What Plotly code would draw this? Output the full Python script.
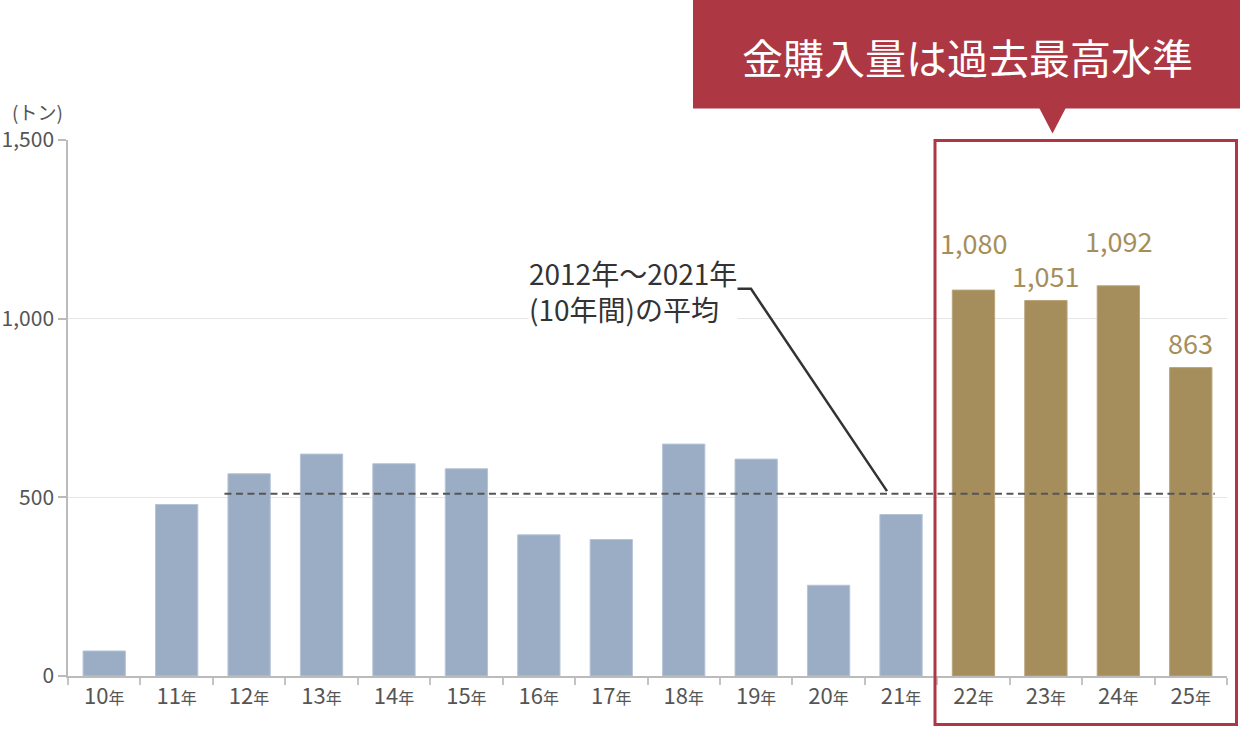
import plotly.graph_objects as go

# ---- data ----
years = ["10", "11", "12", "13", "14", "15", "16", "17", "18", "19",
         "20", "21", "22", "23", "24", "25"]
categories = [y + "年" for y in years]
purchases = [70, 480, 566, 621, 594, 580, 395, 382, 649, 607,
             254, 452, 1080, 1051, 1092, 863]
highlight_from = "22年"
average_2012_2021 = 510
avg_start, avg_end = "12年", "25年"
y_ticks = [0, 500, 1000, 1500]
unit_label = "(トン)"
avg_label = "2012年～2021年<br>(10年間)の平均"
callout_label = "金購入量は過去最高水準"

# ---- style ----
FONT = "Noto Sans CJK JP"
BLUE = "#9aadc5"
BLUE_EDGE = "#b6c4d6"
GOLD = "#a58e5c"
GOLD_EDGE = "#b9a57c"
RED = "#ad3843"
W, H = 1240, 730
L, R, T, B = 68, 13, 139.5, 54
PW, PH = W - L - R, H - T - B


def px_x(p):
    return (p - L) / PW


def px_y(p):
    return (H - B - p) / PH


hi = categories.index(highlight_from)
colors = [BLUE if i < hi else GOLD for i in range(len(categories))]
edges = [BLUE_EDGE if i < hi else GOLD_EDGE for i in range(len(categories))]

fig = go.Figure()
fig.add_trace(go.Bar(
    x=categories, y=purchases,
    marker=dict(color=colors, line=dict(color=edges, width=1)),
    hoverinfo="x+y",
))

ticktext = [y + "<span style='font-size:16px'>年</span>" for y in years]

# value labels above highlighted bars
label_lift = {"22年": 23, "24年": 20}
annotations = []
for c, v in zip(categories[hi:], purchases[hi:]):
    annotations.append(dict(
        x=c, y=v, xref="x", yref="y", text=f"{v:,}", showarrow=False,
        xanchor="center", yanchor="middle", yshift=25 + label_lift.get(c, 0),
        font=dict(family=FONT, size=27, color=GOLD),
    ))

annotations.append(dict(
    x=px_x(37), y=px_y(110.5), xref="paper", yref="paper", text=unit_label,
    showarrow=False, xanchor="center", yanchor="middle",
    font=dict(family=FONT, size=19, color="#555"),
))
annotations.append(dict(
    x=px_x(528), y=px_y(252), xref="paper", yref="paper", text=avg_label,
    showarrow=False, xanchor="left", yanchor="top", align="left",
    bgcolor="white", borderpad=0,
    font=dict(family=FONT, size=28, color="#333"),
))
annotations.append(dict(
    x=px_x(967), y=px_y(55), xref="paper", yref="paper", text=callout_label,
    showarrow=False, xanchor="center", yanchor="middle",
    font=dict(family=FONT, size=41, color="white"),
))

i0 = categories.index(avg_start)
i1 = categories.index(avg_end)
shapes = [
    # average line
    dict(type="line", xref="x", yref="y", x0=i0 - 0.34, x1=i1 + 0.33,
         y0=average_2012_2021, y1=average_2012_2021,
         line=dict(color="#555", width=2, dash="7px,4.5px"), layer="above"),
    # leader line
    dict(type="path", xref="paper", yref="paper",
         path=f"M {px_x(725)},{px_y(288.5)} L {px_x(751)},{px_y(288.5)} "
              f"L {px_x(887)},{px_y(491)}",
         line=dict(color="#333", width=2.5)),
    # highlight frame
    dict(type="rect", xref="paper", yref="paper",
         x0=px_x(935), x1=px_x(1236.5), y0=px_y(724.5), y1=px_y(140),
         line=dict(color=RED, width=3)),
    # callout box
    dict(type="rect", xref="paper", yref="paper",
         x0=px_x(693), x1=px_x(1245), y0=px_y(108), y1=px_y(-5),
         fillcolor=RED, line=dict(width=0)),
    dict(type="path", xref="paper", yref="paper",
         path=f"M {px_x(1039)},{px_y(107)} L {px_x(1066)},{px_y(107)} "
              f"L {px_x(1052.5)},{px_y(133)} Z",
         fillcolor=RED, line=dict(width=0)),
]

fig.update_layout(
    width=W, height=H,
    margin=dict(l=L, r=R, t=T, b=B, pad=0),
    paper_bgcolor="white", plot_bgcolor="white",
    showlegend=False, bargap=0.416,
    font=dict(family=FONT, color="#555"),
    annotations=annotations, shapes=shapes,
    xaxis=dict(
        type="category", tickmode="array", tickvals=categories,
        ticktext=ticktext, tickson="boundaries", ticks="outside",
        ticklen=7, tickcolor="#c4c4c4", tickwidth=1.5,
        showline=True, linecolor="#bbb", linewidth=1.5,
        showgrid=False, tickfont=dict(family=FONT, size=22, color="#555"),
        range=[-0.5, len(categories) - 0.5], fixedrange=True,
        automargin=False,
    ),
    yaxis=dict(
        range=[0, 1500], tickvals=y_ticks, tickformat=",d",
        ticks="outside", ticklen=8, tickcolor="#bbb", tickwidth=1.5,
        showline=True, linecolor="#bbb", linewidth=1.5,
        showgrid=True, gridcolor="#e6e6e6", gridwidth=1.2,
        zeroline=False, tickfont=dict(family=FONT, size=21, color="#555"),
        fixedrange=True, automargin=False,
    ),
)

fig.write_html(
    "out.html",
    config={"displayModeBar": False},
    post_script="document.body.style.margin='0';"
                "document.documentElement.style.overflow='hidden';",
)
